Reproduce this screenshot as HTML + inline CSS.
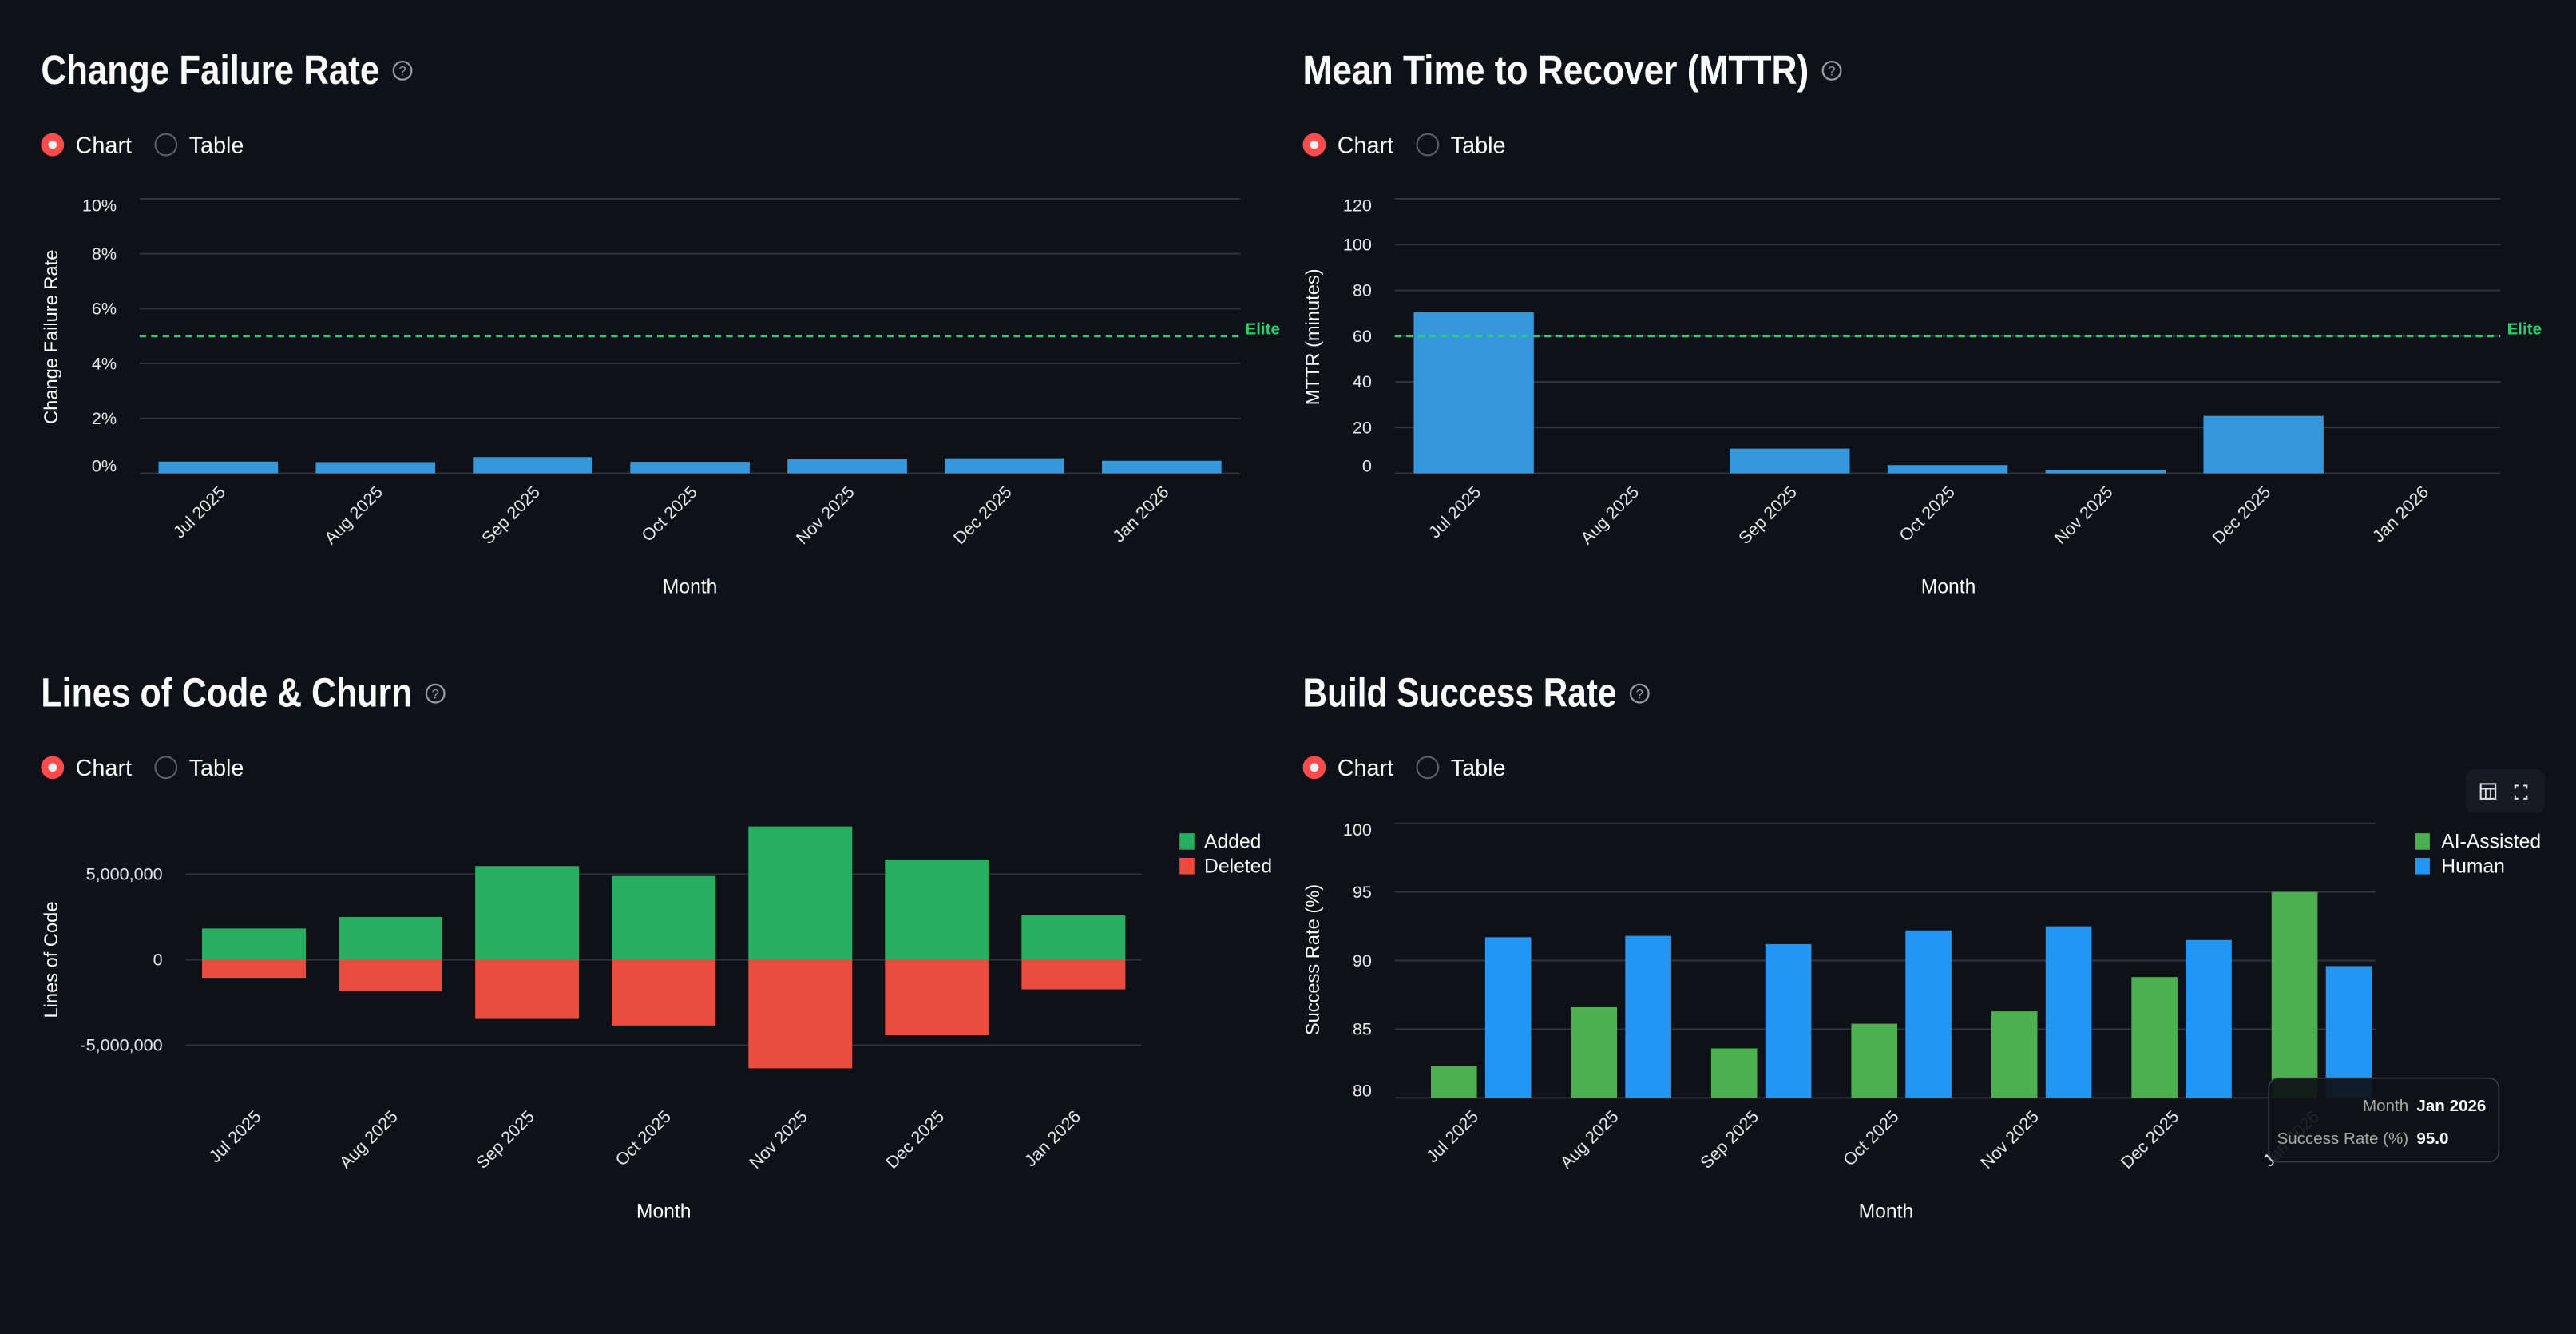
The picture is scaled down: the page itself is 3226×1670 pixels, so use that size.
<!DOCTYPE html>
<html><head><meta charset="utf-8">
<style>
html,body{margin:0;padding:0;background:#0e1117;width:3226px;height:1670px;overflow:hidden}
svg{display:block}
text{font-family:"Liberation Sans",sans-serif}
</style></head>
<body>
<svg id="root" xmlns="http://www.w3.org/2000/svg" width="3226" height="1670" viewBox="0 0 1568 811.7" preserveAspectRatio="none">
<rect x="0" y="0" width="1568" height="812" fill="#0e1117"/>
</svg>
<script>
const months = ["Jul 2025","Aug 2025","Sep 2025","Oct 2025","Nov 2025","Dec 2025","Jan 2026"];
const cfrValues = [0.43,0.41,0.59,0.42,0.52,0.55,0.46];
const cfrTicks = [0,2,4,6,8,10];
const cfrTickLabels = ["0%","2%","4%","6%","8%","10%"];
const cfrElite = 5;
const mttrValues = [70.4,0,10.8,3.6,1.4,25.1,0];
const mttrTicks = [0,20,40,60,80,100,120];
const mttrElite = 60;
const locAdded = [1830000,2500000,5480000,4900000,7800000,5870000,2600000];
const locDeleted = [-1060000,-1830000,-3460000,-3850000,-6350000,-4420000,-1730000];
const locTicks = [-5000000,0,5000000];
const locTickLabels = ["-5,000,000","0","5,000,000"];
const buildAI = [82.3,86.6,83.6,85.4,86.3,88.8,95.0];
const buildHuman = [91.7,91.8,91.2,92.2,92.5,91.5,89.6];
const buildTicks = [80,85,90,95,100];

const NS="http://www.w3.org/2000/svg";
const root=document.getElementById('root');
function el(tag,attrs,parent,txt){const e=document.createElementNS(NS,tag);for(const k in attrs)e.setAttribute(k,attrs[k]);if(txt!==undefined)e.textContent=txt;(parent||root).appendChild(e);return e;}
function lin(d0,d1,r0,r1){return v=>r0+(v-d0)/(d1-d0)*(r1-r0);}

function header(g,x,yTitle,title,tw){
  const t=el('text',{x:x,y:yTitle,fill:'#fafafa','font-size':25,'font-weight':'bold',textLength:tw,lengthAdjust:'spacingAndGlyphs'},g,title);
  
  const h=el('g',{},g);
  el('circle',{cx:x+tw+14,cy:yTitle-8,r:5.5,fill:'none',stroke:'#9a9ca3','stroke-width':1.1},h);
  el('text',{x:x+tw+14,y:yTitle-5,'text-anchor':'middle','font-size':8,fill:'#9a9ca3'},h,'?');
  const yr=yTitle+37;
  const r1=el('g',{},g);
  el('circle',{cx:x+7,cy:yr,r:7,fill:'#ff4b4b'},r1);
  el('circle',{cx:x+7,cy:yr,r:2.6,fill:'#f0f0f0'},r1);
  el('text',{x:x+21,y:yr+5,'font-size':14,fill:'#fafafa'},r1,'Chart');
  const r2=el('g',{},g);
  el('circle',{cx:x+76,cy:yr,r:6.5,fill:'none',stroke:'#5c5f66','stroke-width':1},r2);
  el('text',{x:x+90,y:yr+5,'font-size':14,fill:'#fafafa'},r2,'Table');
}
function yAxis(g,ticks,labels,y,x0,x1,labelX,edgeAdjust){
  ticks.forEach((t,i)=>{
    const gl=el('line',{x1:x0,x2:x1,y1:y(t),y2:y(t),stroke:'#30333b','stroke-width':1},g);
    
    let ty=y(t)+3.5;
    if(edgeAdjust){if(i===0)ty=y(t)-1;if(i===ticks.length-1)ty=y(t)+7.5;}
    const tl=el('text',{x:labelX,y:ty,'text-anchor':'end','font-size':10.5,fill:'#e6e6e6'},g,labels[i]);
    
  });
}
function xLabels(g,x,bw,yl){
  months.forEach((m,i)=>{
    const cx=x(i)+bw/2+5;
    const t=el('text',{x:cx,y:yl,'text-anchor':'end','font-size':10.5,fill:'#e6e6e6',transform:`rotate(-45 ${cx} ${yl})`},g,m);
    
  });
}
function titles(g,xt,yt,xm,ym,yname){
  const a=el('text',{x:xm,y:ym,'text-anchor':'middle','font-size':12,fill:'#fafafa'},g,'Month');
  
  const b=el('text',{x:xt,y:yt,'text-anchor':'middle','font-size':11.5,fill:'#fafafa',transform:`rotate(-90 ${xt} ${yt})`},g,yname);
  
}
function band(x0,x1,n,pad){const step=(x1-x0)/n;const bw=step*(1-pad);return {bw,x:i=>x0+step*i+step*pad/2};}

// CFR
{
 const g=el('g',{});
 header(g,25,51,'Change Failure Rate',206);
 const y=lin(0,10,288,121);const x0=85,x1=755;
 yAxis(g,cfrTicks,cfrTickLabels,y,x0,x1,71,true);
 const b=band(x0,x1,months.length,0.24);
 cfrValues.forEach((v,i)=>{const r=el('rect',{x:b.x(i),y:y(v),width:b.bw,height:y(0)-y(v),fill:'#3498db'},g);
  });
 const e=el('line',{x1:x0,x2:x1,y1:y(cfrElite),y2:y(cfrElite),stroke:'#2ecc71','stroke-width':1.5,'stroke-dasharray':'4,3'},g);
 
 const et=el('text',{x:758,y:y(cfrElite)-1,'font-size':10,'font-weight':'bold',fill:'#2ecc71'},g,'Elite');
 
 xLabels(g,b.x,b.bw,300);
 titles(g,35,205,420,361,'Change Failure Rate');
}
// MTTR
{
 const g=el('g',{});
 header(g,793,51,'Mean Time to Recover (MTTR)',308);
 const y=lin(0,120,288,121);const x0=849,x1=1522;
 yAxis(g,mttrTicks,mttrTicks.map(String),y,x0,x1,835,true);
 const b=band(x0,x1,months.length,0.24);
 mttrValues.forEach((v,i)=>{const r=el('rect',{x:b.x(i),y:y(v),width:b.bw,height:y(0)-y(v),fill:'#3498db'},g);
  });
 const e=el('line',{x1:x0,x2:x1,y1:y(mttrElite),y2:y(mttrElite),stroke:'#2ecc71','stroke-width':1.5,'stroke-dasharray':'4,3'},g);
 
 const et=el('text',{x:1526,y:y(mttrElite)-1,'font-size':10,'font-weight':'bold',fill:'#2ecc71'},g,'Elite');
 
 xLabels(g,b.x,b.bw,300);
 titles(g,803,205,1186,361,'MTTR (minutes)');
}
// LOC
{
 const g=el('g',{});
 header(g,25,430,'Lines of Code & Churn',226);
 const y=lin(0,5000000,584,532);const x0=113,x1=695;
 yAxis(g,locTicks,locTickLabels,y,x0,x1,99,false);
 const b=band(x0,x1,months.length,0.24);
 locAdded.forEach((v,i)=>{const r=el('rect',{x:b.x(i),y:y(v),width:b.bw,height:y(0)-y(v),fill:'#27ae60'},g);
  });
 locDeleted.forEach((v,i)=>{const r=el('rect',{x:b.x(i),y:y(0),width:b.bw,height:y(v)-y(0),fill:'#e74c3c'},g);
  });
 const l1=el('g',{},g);
 el('rect',{x:718,y:507,width:9,height:10,fill:'#27ae60'},l1);
 el('text',{x:733,y:516,'font-size':12,fill:'#fafafa'},l1,'Added');
 const l2=el('g',{},g);
 el('rect',{x:718,y:522,width:9,height:10,fill:'#e74c3c'},l2);
 el('text',{x:733,y:531,'font-size':12,fill:'#fafafa'},l2,'Deleted');
 xLabels(g,b.x,b.bw,680);
 titles(g,35,584,404,741,'Lines of Code');
}
// Build
{
 const g=el('g',{});
 header(g,793,430,'Build Success Rate',191);
 const y=lin(80,100,668,501);const x0=849,x1=1446;
 yAxis(g,buildTicks,buildTicks.map(String),y,x0,x1,835,true);
 const step=(x1-x0)/months.length;
 const gx=i=>x0+step*i+22;
 buildAI.forEach((v,i)=>{const r=el('rect',{x:gx(i),y:y(v),width:28,height:y(80)-y(v),fill:'#4caf50'},g);
  });
 buildHuman.forEach((v,i)=>{const r=el('rect',{x:gx(i)+33,y:y(v),width:28,height:y(80)-y(v),fill:'#2196f3'},g);
  });
 const l1=el('g',{},g);
 el('rect',{x:1470,y:507,width:9,height:10,fill:'#4caf50'},l1);
 el('text',{x:1486,y:516,'font-size':12,fill:'#fafafa'},l1,'AI-Assisted');
 const l2=el('g',{},g);
 el('rect',{x:1470,y:522,width:9,height:10,fill:'#2196f3'},l2);
 el('text',{x:1486,y:531,'font-size':12,fill:'#fafafa'},l2,'Human');
 xLabels(g,i=>gx(i)-6,61,680);
 titles(g,803,584,1148,741,'Success Rate (%)');
 const tb=el('g',{},g);
 el('rect',{x:1501,y:468,width:48,height:27,rx:6,fill:'#161a22'},tb);
 const ic1=el('g',{},tb);
 el('rect',{x:1510,y:477,width:9,height:9,fill:'none',stroke:'#e0e0e0','stroke-width':1},ic1);
 el('path',{d:'M1510 480H1519M1513 480V486M1516 480V486',stroke:'#e0e0e0','stroke-width':0.9,fill:'none'},ic1);
 const ic2=el('g',{},tb);
 el('path',{d:'M1531 480V478H1533M1536 478H1538V480M1538 484V486H1536M1533 486H1531V484',stroke:'#e0e0e0','stroke-width':1,fill:'none'},ic2);
 const tt=el('g',{},g);
 el('rect',{x:1381,y:656,width:140,height:51,rx:6,fill:'#0e1117','fill-opacity':0.92,stroke:'#3a3d45','stroke-width':0.8},tt);
 el('text',{x:1466,y:676,'text-anchor':'end','font-size':10,fill:'#a8a8a8'},tt,'Month');
 el('text',{x:1471,y:676,'font-size':10,fill:'#fafafa','font-weight':'bold'},tt,'Jan 2026');
 el('text',{x:1466,y:696,'text-anchor':'end','font-size':10,fill:'#a8a8a8'},tt,'Success Rate (%)');
 el('text',{x:1471,y:696,'font-size':10,fill:'#fafafa','font-weight':'bold'},tt,'95.0');
}
</script>
</body></html>
